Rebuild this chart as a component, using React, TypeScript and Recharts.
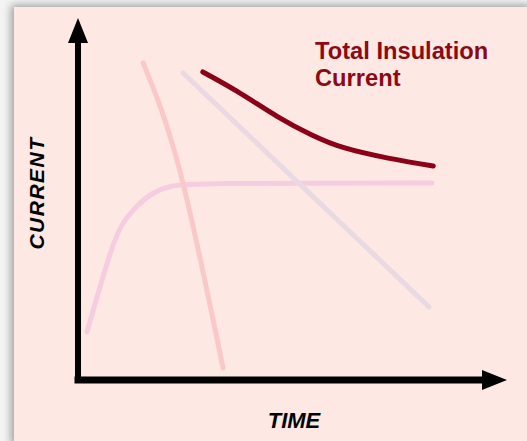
import React from "react";
import { LineChart, Line, XAxis, YAxis, ReferenceLine, ReferenceDot } from "recharts";

// time / current in arbitrary units
const totalCurrent = [
  { t: 29.1, i: 85.1 },
  { t: 37.3, i: 79.6 },
  { t: 46.6, i: 72.7 },
  { t: 54.5, i: 67.7 },
  { t: 62.2, i: 64.1 },
  { t: 72.3, i: 61.3 },
  { t: 82.8, i: 59.1 },
];

const capacitiveCurrent = [
  { t: 15.2, i: 87.6 },
  { t: 23.8, i: 57.5 },
  { t: 33.8, i: 3.3 },
];

const absorptionCurrent = [
  { t: 24.5, i: 84.8 },
  { t: 81.8, i: 20.2 },
];

const leakageCurrent = [
  { t: 2.1, i: 13.3 },
  { t: 5.1, i: 25.7 },
  { t: 7.5, i: 35.1 },
  { t: 9.8, i: 42.8 },
  { t: 13.8, i: 48.3 },
  { t: 17.5, i: 51.9 },
  { t: 21.4, i: 53.6 },
  { t: 26.1, i: 54.4 },
  { t: 82.5, i: 54.4 },
];

const xLabel = "TIME";
const yLabel = "CURRENT";
const title = ["Total Insulation", "Current"];

const font = "'Liberation Sans', Arial, sans-serif";

const ArrowRight = (props: any) => {
  const { cx, cy } = props;
  return <polygon points={`${cx},${cy} ${cx - 25},${cy - 10} ${cx - 25},${cy + 10}`} fill="#000" />;
};

const ArrowUp = (props: any) => {
  const { cx, cy } = props;
  return <polygon points={`${cx},${cy} ${cx - 10},${cy + 25} ${cx + 10},${cy + 25}`} fill="#000" />;
};

export default function App() {
  return (
    <div style={{ position: "absolute", left: 0, top: 0, width: 527, height: 441, background: "#f4f4f4", overflow: "hidden" }}>
      <div
        style={{
          position: "absolute",
          left: 14,
          top: 7,
          width: 520,
          height: 440,
          background: "#fde8e4",
          boxShadow: "-3px -2px 8px rgba(0,0,0,0.35)",
        }}
      />
      <div style={{ position: "absolute", left: 0, top: 0 }}>
        <LineChart width={527} height={441} margin={{ top: 18, right: 20, bottom: 61, left: 78 }}>
          <XAxis type="number" dataKey="t" domain={[0, 100]} hide allowDataOverflow />
          <YAxis type="number" dataKey="i" domain={[0, 100]} hide allowDataOverflow />
          <Line data={leakageCurrent} dataKey="i" type="basis" stroke="#f6cce0" strokeWidth={5} dot={false} strokeLinecap="round" isAnimationActive={false} />
          <Line data={capacitiveCurrent} dataKey="i" type="natural" stroke="#fbc8c8" strokeWidth={5} dot={false} strokeLinecap="round" isAnimationActive={false} />
          <Line data={absorptionCurrent} dataKey="i" type="linear" stroke="#e9d9e3" strokeWidth={5} dot={false} strokeLinecap="round" isAnimationActive={false} />
          <Line data={totalCurrent} dataKey="i" type="natural" stroke="#8b0016" strokeWidth={5} dot={false} strokeLinecap="round" isAnimationActive={false} />
          <ReferenceLine segment={[{ x: 0, y: 0 }, { x: 95, y: 0 }]} stroke="#000" strokeWidth={7} strokeLinecap="square" />
          <ReferenceLine segment={[{ x: 0, y: 0 }, { x: 0, y: 94 }]} stroke="#000" strokeWidth={6} strokeLinecap="square" />
          <ReferenceDot x={100} y={0} r={1} shape={ArrowRight} />
          <ReferenceDot x={0} y={100} r={1} shape={ArrowUp} />
        </LineChart>
      </div>
      <div
        style={{
          position: "absolute",
          left: 315,
          top: 38,
          fontFamily: font,
          fontWeight: "bold",
          fontSize: 23.7,
          lineHeight: "27px",
          color: "#8b0a14",
          whiteSpace: "nowrap",
        }}
      >
        {title[0]}
        <br />
        {title[1]}
      </div>
      <div
        style={{
          position: "absolute",
          left: 294,
          top: 409,
          transform: "translateX(-50%)",
          fontFamily: font,
          fontWeight: "bold",
          fontStyle: "italic",
          fontSize: 22,
          lineHeight: "24px",
          color: "#000",
        }}
      >
        {xLabel}
      </div>
      <div
        style={{
          position: "absolute",
          left: 37,
          top: 193,
          transform: "translate(-50%, -50%) rotate(-90deg)",
          fontFamily: font,
          fontWeight: "bold",
          fontStyle: "italic",
          fontSize: 21,
          letterSpacing: 1.5,
          lineHeight: "24px",
          color: "#000",
          whiteSpace: "nowrap",
        }}
      >
        {yLabel}
      </div>
    </div>
  );
}
